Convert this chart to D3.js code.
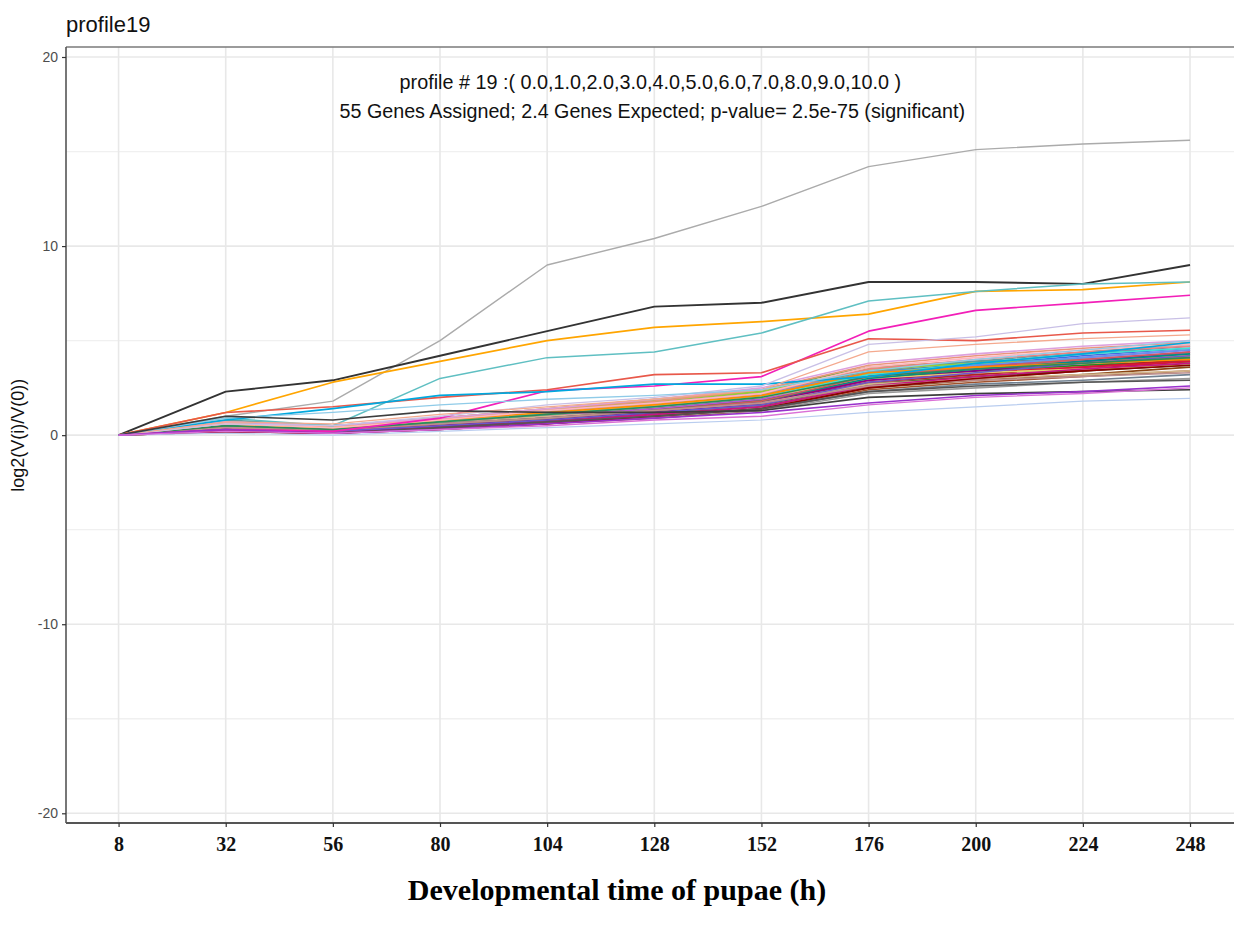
<!DOCTYPE html>
<html>
<head>
<meta charset="utf-8">
<script src="https://cdn.jsdelivr.net/npm/d3@7"></script>
<style>
  body { margin: 0; background: #fff; }
  svg { display: block; }
</style>
</head>
<body>
<svg id="chart" width="1234" height="929"></svg>
<script>
// time points (h) and y ticks
const times = [8, 32, 56, 80, 104, 128, 152, 176, 200, 224, 248];
const yMajor = [-20, -10, 0, 10, 20];
const yMinor = [-15, -5, 5, 15];

// the few profiles that stand out of the bundle
const highlight = [
  [0, 1.0, 1.8, 5.0, 9.0, 10.4, 12.1, 14.2, 15.1, 15.4, 15.6],
  [0, 2.3, 2.9, 4.2, 5.5, 6.8, 7.0, 8.1, 8.1, 8.0, 9.0],
  [0, 1.2, 2.8, 3.9, 5.0, 5.7, 6.0, 6.4, 7.6, 7.7, 8.1],
  [0, 0.9, 0.5, 3.0, 4.1, 4.4, 5.4, 7.1, 7.6, 8.0, 8.1],
  [0, 0.3, 0.2, 0.9, 2.35, 2.6, 3.1, 5.5, 6.6, 7.0, 7.4],
  [0, 1.2, 1.5, 2.0, 2.4, 3.2, 3.3, 5.1, 5.0, 5.4, 5.55],
  [0, 0.8, 1.4, 2.1, 2.3, 2.7, 2.7, 3.1, 3.8, 4.3, 4.9],
  [0, 0.6, 0.5, 1.0, 1.6, 2.0, 2.6, 4.8, 5.2, 5.9, 6.2],
  [0, 0.7, 0.6, 1.1, 1.5, 1.9, 2.4, 4.4, 4.8, 5.1, 5.3],
  [0, 0.9, 1.2, 1.6, 1.9, 2.1, 2.4, 3.4, 4.0, 4.5, 5.0],
  [0, 1.0, 0.8, 1.3, 1.2, 1.2, 1.3, 2.0, 2.2, 2.3, 2.4],
  [0, 0.1, 0.0, 0.2, 0.4, 0.6, 0.8, 1.2, 1.5, 1.8, 1.95],
  [0, 0.3, 0.1, 0.3, 0.6, 0.9, 1.2, 1.7, 2.1, 2.3, 2.6],
  [0, 0.2, 0.1, 0.3, 0.5, 0.8, 1.0, 1.6, 2.0, 2.2, 2.5]
];
const highlightColors = ["#ababab", "#333333", "#ffa500", "#5fbfc2", "#f21fb8", "#e8584a",
  "#00a8de", "#c9c0e6", "#f4a98e", "#8fcbe8", "#3d3d3d", "#b9cdef", "#9932cc", "#da70d6"];
const highlightWidths = [1.4, 1.9, 1.7, 1.5, 1.7, 1.6, 1.7, 1.3, 1.3, 1.3, 1.7, 1.2, 1.6, 1.4];

// the dense bundle of the remaining genes
const bundle = [
  [0, 0.7, 0.5, 0.9, 1.4, 1.9, 2.4, 3.6, 3.9, 4.0, 4.1],
  [0, 0.5, 0.4, 0.8, 1.2, 1.7, 2.2, 3.4, 3.7, 3.9, 4.0],
  [0, 0.3, 0.1, 0.4, 0.7, 1.1, 1.5, 2.6, 3.0, 3.4, 3.8],
  [0, 0.4, 0.2, 0.5, 0.8, 1.2, 1.6, 2.7, 3.1, 3.5, 3.9],
  [0, 0.2, 0.1, 0.4, 0.6, 1.0, 1.4, 2.5, 2.9, 3.2, 3.6],
  [0, 0.5, 0.3, 0.7, 1.1, 1.5, 2.0, 3.1, 3.6, 4.1, 4.5],
  [0, 0.6, 0.3, 0.6, 1.0, 1.4, 1.9, 3.0, 3.5, 3.9, 4.3],
  [0, 0.4, 0.2, 0.6, 0.9, 1.3, 1.8, 3.2, 3.7, 4.2, 4.6],
  [0, 0.6, 0.4, 0.8, 1.2, 1.6, 2.1, 3.3, 3.8, 4.3, 4.7],
  [0, 0.8, 0.5, 0.9, 1.3, 1.8, 2.3, 3.4, 3.9, 4.4, 4.8],
  [0, 0.5, 0.3, 0.7, 1.0, 1.5, 2.0, 3.0, 3.4, 3.8, 4.2],
  [0, 0.3, 0.2, 0.5, 0.9, 1.3, 1.7, 2.8, 3.2, 3.6, 4.0],
  [0, 0.2, 0.1, 0.3, 0.6, 0.9, 1.3, 2.4, 2.8, 3.1, 3.4],
  [0, 0.4, 0.2, 0.6, 1.0, 1.4, 1.8, 2.9, 3.3, 3.7, 4.1],
  [0, 0.5, 0.3, 0.7, 1.1, 1.6, 2.1, 3.2, 3.6, 3.9, 4.2],
  [0, 0.6, 0.4, 0.9, 1.3, 1.8, 2.3, 3.5, 3.8, 4.0, 4.3],
  [0, 0.4, 0.3, 0.6, 1.0, 1.4, 1.9, 3.0, 3.4, 3.7, 3.9],
  [0, 0.3, 0.2, 0.5, 0.8, 1.2, 1.6, 2.7, 3.1, 3.4, 3.7],
  [0, 0.2, 0.1, 0.4, 0.7, 1.0, 1.4, 2.3, 2.7, 2.9, 3.2],
  [0, 0.3, 0.2, 0.4, 0.7, 1.0, 1.3, 2.2, 2.5, 2.8, 3.0],
  [0, 0.3, 0.1, 0.4, 0.8, 1.2, 1.7, 2.8, 3.2, 3.6, 4.0],
  [0, 0.4, 0.2, 0.5, 0.9, 1.3, 1.8, 2.9, 3.3, 3.6, 3.9],
  [0, 0.3, 0.1, 0.5, 0.8, 1.2, 1.7, 2.9, 3.4, 3.9, 4.4],
  [0, 0.5, 0.3, 0.6, 1.0, 1.4, 1.9, 3.1, 3.6, 4.0, 4.4],
  [0, 0.7, 0.5, 0.8, 1.2, 1.7, 2.2, 3.3, 3.7, 4.1, 4.5],
  [0, 0.6, 0.4, 0.7, 1.1, 1.5, 2.0, 3.2, 3.8, 4.3, 4.6],
  [0, 0.5, 0.3, 0.8, 1.3, 1.7, 2.2, 3.5, 4.0, 4.4, 4.7],
  [0, 0.6, 0.4, 0.9, 1.4, 1.8, 2.4, 3.7, 4.2, 4.6, 4.9],
  [0, 0.4, 0.3, 0.6, 1.0, 1.3, 1.7, 2.7, 3.0, 3.2, 3.4],
  [0, 0.5, 0.4, 0.8, 1.2, 1.6, 2.0, 3.0, 3.3, 3.5, 3.7],
  [0, 0.5, 0.3, 0.6, 0.9, 1.3, 1.8, 3.0, 3.5, 3.9, 4.3],
  [0, 0.2, 0.1, 0.4, 0.7, 1.1, 1.5, 2.6, 3.1, 3.5, 3.8],
  [0, 0.4, 0.2, 0.6, 0.9, 1.3, 1.8, 3.1, 3.6, 4.0, 4.4],
  [0, 0.6, 0.4, 0.8, 1.2, 1.6, 2.1, 3.3, 3.6, 3.8, 4.0],
  [0, 0.3, 0.2, 0.5, 0.8, 1.2, 1.6, 2.8, 3.3, 3.8, 4.2],
  [0, 0.7, 0.5, 0.9, 1.4, 1.9, 2.5, 3.8, 4.3, 4.7, 5.0],
  [0, 0.4, 0.3, 0.6, 0.9, 1.3, 1.7, 2.6, 2.9, 3.1, 3.3],
  [0, 0.2, 0.1, 0.3, 0.6, 1.0, 1.4, 2.5, 3.0, 3.4, 3.7],
  [0, 0.5, 0.3, 0.7, 1.1, 1.5, 2.0, 3.1, 3.5, 3.8, 4.1],
  [0, 0.3, 0.1, 0.4, 0.7, 1.0, 1.4, 2.3, 2.6, 2.8, 2.9],
  [0, 0.6, 0.4, 0.8, 1.3, 1.7, 2.2, 3.6, 4.1, 4.5, 4.8]
];
const bundleColors = ["#77ab43", "#c9b81a", "#8b1a1a", "#a52a2a", "#8b4513", "#8a2be2",
  "#9370db", "#4169e1", "#4682b4", "#5f9ea0", "#ff69b4", "#db7093", "#a0522d", "#cd853f",
  "#daa520", "#9acd32", "#228b22", "#556b2f", "#708090", "#999999", "#b22222", "#dc143c",
  "#8b008b", "#ba55d3", "#6495ed", "#40e0d0", "#f08080", "#e9967a", "#d2b48c", "#e0d36a",
  "#008b8b", "#c71585", "#cd5c5c", "#ff8c00", "#6a5acd", "#dda0dd", "#bc8f8f", "#8b0000",
  "#2e8b57", "#555555", "#ffb6c1"];

const svg = d3.select("#chart");
const sans = "'Liberation Sans', Arial, Helvetica, sans-serif";
const serif = "'Liberation Serif', 'Times New Roman', serif";

// panel geometry
const panel = { left: 66, top: 47, right: 1244, bottom: 823 };
const x = d3.scaleLinear().domain([-4, 260]).range([65, 1243.6]);
const y = d3.scaleLinear().domain([-20, 20]).range([813.3, 57]);

svg.append("rect").attr("width", 1234).attr("height", 929).attr("fill", "#fff");

// grid
const grid = svg.append("g");
grid.selectAll("line.minor").data(yMinor).enter().append("line")
  .attr("x1", panel.left).attr("x2", panel.right)
  .attr("y1", d => y(d)).attr("y2", d => y(d))
  .attr("stroke", "#f0f0f0").attr("stroke-width", 1.3);
grid.selectAll("line.majorY").data(yMajor).enter().append("line")
  .attr("x1", panel.left).attr("x2", panel.right)
  .attr("y1", d => y(d)).attr("y2", d => y(d))
  .attr("stroke", "#e8e8e8").attr("stroke-width", 1.6);
grid.selectAll("line.majorX").data(times).enter().append("line")
  .attr("x1", d => x(d)).attr("x2", d => x(d))
  .attr("y1", panel.top).attr("y2", panel.bottom)
  .attr("stroke", "#e8e8e8").attr("stroke-width", 1.6);

// lines
const line = d3.line().x((d, i) => x(times[i])).y(d => y(d));
const lines = svg.append("g").attr("fill", "none").attr("stroke-linejoin", "round");
lines.selectAll("path.b").data(bundle).enter().append("path")
  .attr("d", line)
  .attr("stroke", (d, i) => bundleColors[i])
  .attr("stroke-width", 1.6);
lines.selectAll("path.h").data(highlight).enter().append("path")
  .attr("d", line)
  .attr("stroke", (d, i) => highlightColors[i])
  .attr("stroke-width", (d, i) => highlightWidths[i]);

// panel border (top) and axis lines
svg.append("line").attr("x1", panel.left).attr("x2", panel.right)
  .attr("y1", panel.top).attr("y2", panel.top)
  .attr("stroke", "#7a7a7a").attr("stroke-width", 1.3);

const yAxis = svg.append("g").attr("transform", `translate(${panel.left},0)`)
  .call(d3.axisLeft(y).tickValues(yMajor).tickSize(4).tickPadding(4).tickFormat(d => String(d)));
yAxis.select(".domain").attr("d", `M0,${panel.top}V${panel.bottom}`)
  .attr("stroke", "#555").attr("stroke-width", 1.6);
yAxis.selectAll(".tick line").attr("stroke", "#333").attr("stroke-width", 1.2);
yAxis.selectAll(".tick text").attr("fill", "#4d4d4d")
  .style("font-family", sans).style("font-size", "14px");

const xAxis = svg.append("g").attr("transform", `translate(0,${panel.bottom})`)
  .call(d3.axisBottom(x).tickValues(times).tickSize(4).tickPadding(10));
xAxis.select(".domain").attr("d", `M${panel.left},0H${panel.right}`)
  .attr("stroke", "#555").attr("stroke-width", 2);
xAxis.selectAll(".tick line").attr("stroke", "#333").attr("stroke-width", 1.2);
xAxis.selectAll(".tick text").attr("fill", "#111")
  .style("font-family", serif).style("font-weight", "bold").style("font-size", "20px");

// texts
svg.append("text").attr("x", 66).attr("y", 32)
  .style("font-family", sans).style("font-size", "22px").attr("fill", "#111")
  .text("profile19");

const note = svg.append("g").attr("text-anchor", "middle")
  .style("font-family", sans).attr("fill", "#111");
note.append("text").attr("x", x(128) - 4).attr("y", 89).style("font-size", "19.8px")
  .text("profile # 19 :( 0.0,1.0,2.0,3.0,4.0,5.0,6.0,7.0,8.0,9.0,10.0 )");
note.append("text").attr("x", x(128) - 2).attr("y", 118).style("font-size", "19.7px")
  .text("55 Genes Assigned; 2.4 Genes Expected; p-value= 2.5e-75 (significant)");

svg.append("text")
  .attr("transform", `translate(24,${y(0)}) rotate(-90)`)
  .attr("text-anchor", "middle")
  .style("font-family", sans).style("font-size", "18px").attr("fill", "#111")
  .text("log2(V(i)/V(0))");

svg.append("text").attr("x", 617).attr("y", 900)
  .attr("text-anchor", "middle")
  .style("font-family", serif).style("font-weight", "bold").style("font-size", "30px")
  .attr("fill", "#000")
  .text("Developmental time of pupae (h)");
</script>
</body>
</html>
